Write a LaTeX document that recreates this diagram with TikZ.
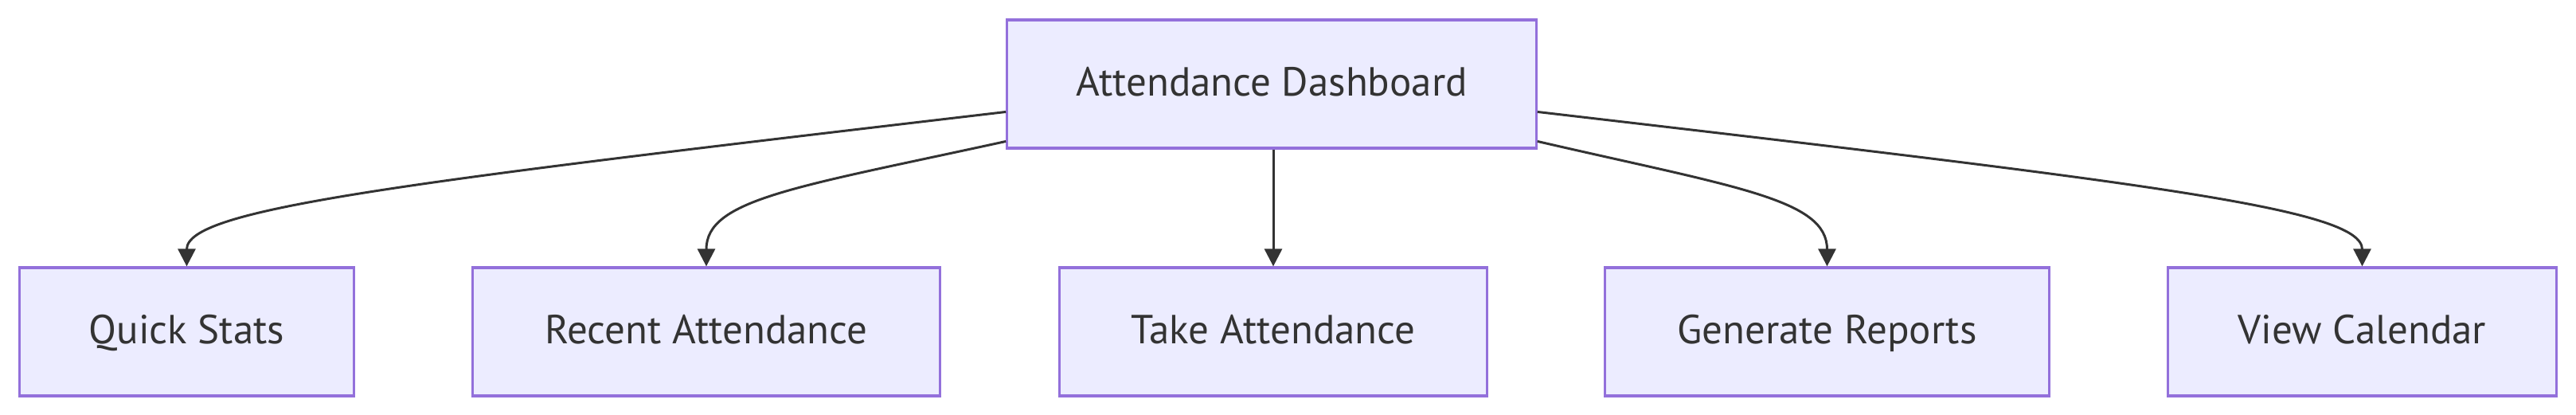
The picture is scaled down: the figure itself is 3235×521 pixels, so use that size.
\documentclass[tikz,border=0pt]{standalone}
\usepackage{fontspec}
\setmainfont{PT Sans}
\usepackage{tikz}
\usetikzlibrary{arrows.meta, positioning}

\definecolor{boxfill}{HTML}{ECECFF}
\definecolor{boxline}{HTML}{9370DB}
\definecolor{ink}{HTML}{333333}

\tikzset{
	caja/.style={draw=boxline, fill=boxfill, line width=0.9pt, minimum height=1.61cm,
		text=ink, font=\fontsize{14.5}{17}\selectfont, inner sep=0pt,
		text height=2.15ex, text depth=0.45ex},
	flecha/.style={draw=ink, line width=0.85pt, -{Triangle[length=0.22cm, width=0.22cm]}}
}

\begin{document}
\begin{tikzpicture}[x=0.01cm, y=-0.01cm]
		\useasboundingbox (0,0) rectangle (3235,521);
		% Nodo principal
		\node[caja, minimum width=6.64cm] (dash) at (1597,105.5) {Attendance Dashboard};
		% Nodos hijos
		\node[caja, minimum width=4.19cm] (stats) at (234.5,416.5) {Quick Stats};
		\node[caja, minimum width=5.86cm] (recent) at (887,416.5) {Recent Attendance};
		\node[caja, minimum width=5.36cm] (take) at (1599,416.5) {Take Attendance};
		\node[caja, minimum width=5.57cm] (reports) at (2294.5,416.5) {Generate Reports};
		\node[caja, minimum width=4.87cm] (calendar) at (2966.5,416.5) {View Calendar};
		% Conexiones
		\draw[flecha] ([yshift=-1.17cm]dash.north west) .. controls (500,230) and (234.5,262) .. (stats.north);
		\draw[flecha] ([yshift=-1.54cm]dash.north west) .. controls (1000,235) and (887,250) .. (recent.north);
		\draw[flecha] (dash.south -| take.north) -- (take.north);
		\draw[flecha] ([yshift=-1.54cm]dash.north east) .. controls (2180,235) and (2294.5,250) .. (reports.north);
		\draw[flecha] ([yshift=-1.17cm]dash.north east) .. controls (2700,230) and (2966.5,262) .. (calendar.north);
	\end{tikzpicture}
\end{document}
